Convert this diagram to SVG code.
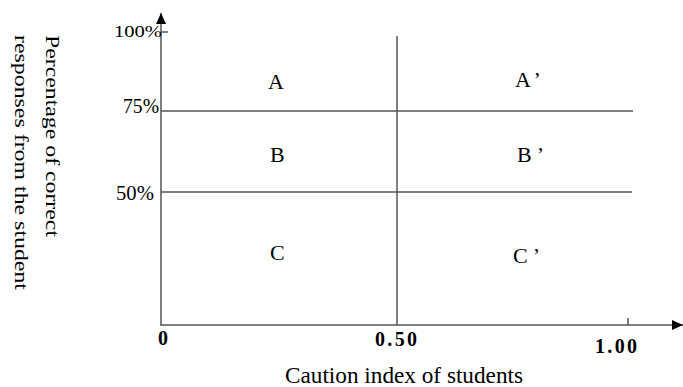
<svg xmlns="http://www.w3.org/2000/svg" width="683" height="387" viewBox="0 0 683 387">
<style>
.ln{stroke:#555;stroke-width:1.5;fill:none}
.t{font-family:"Liberation Serif",serif;fill:#000}
.b{font-weight:bold;font-size:20px}
.q{font-size:22px}
.yl{font-size:18px}
</style>
<defs>
<marker id="ah" viewBox="0 0 11 10" refX="11" refY="5" markerWidth="11" markerHeight="10" markerUnits="userSpaceOnUse" orient="auto">
<path d="M0,0 L11,5 L0,10 Z" fill="#000"/>
</marker>
</defs>
<rect width="683" height="387" fill="#fff"/>
<g id="connectors">
<line class="ln" x1="161" y1="326" x2="161" y2="13" marker-end="url(#ah)"/>
<line class="ln" x1="161" y1="325" x2="683" y2="325" marker-end="url(#ah)"/>
<line class="ln" x1="161" y1="32" x2="168" y2="32"/>
<line class="ln" x1="161" y1="111" x2="633" y2="111"/>
<line class="ln" x1="161" y1="192" x2="632" y2="192"/>
<line class="ln" x1="397" y1="36" x2="397" y2="325"/>
<line class="ln" x1="628" y1="318" x2="628" y2="325"/>
</g>
<g id="axis-labels">
<text class="t" x="114" y="37" font-size="17" textLength="48" lengthAdjust="spacingAndGlyphs">100%</text>
<text class="t" x="123" y="113" font-size="20" textLength="36" lengthAdjust="spacingAndGlyphs">75%</text>
<text class="t" x="116" y="200" font-size="20" textLength="38" lengthAdjust="spacingAndGlyphs">50%</text>
<text class="t b" x="158" y="345">0</text>
<text class="t b" x="375" y="346" textLength="42">0.50</text>
<text class="t b" x="595" y="353" textLength="42">1.00</text>
<text class="t" x="285" y="383" font-size="23" textLength="238" lengthAdjust="spacingAndGlyphs">Caution index of students</text>
<text class="t yl" transform="translate(46,35) rotate(90)" textLength="202" lengthAdjust="spacingAndGlyphs">Percentage of correct</text>
<text class="t yl" transform="translate(15,35) rotate(90)" textLength="255" lengthAdjust="spacingAndGlyphs">responses from the student</text>
</g>
<g id="node-A"><text class="t q" x="268" y="89">A</text></g>
<g id="node-A2"><text class="t q" x="515" y="87">A<tspan dx="5">’</tspan></text></g>
<g id="node-B"><text class="t q" x="270" y="162">B</text></g>
<g id="node-B2"><text class="t q" x="517" y="162">B<tspan dx="5">’</tspan></text></g>
<g id="node-C"><text class="t q" x="270" y="260">C</text></g>
<g id="node-C2"><text class="t q" x="513" y="263">C<tspan dx="5">’</tspan></text></g>
</svg>
